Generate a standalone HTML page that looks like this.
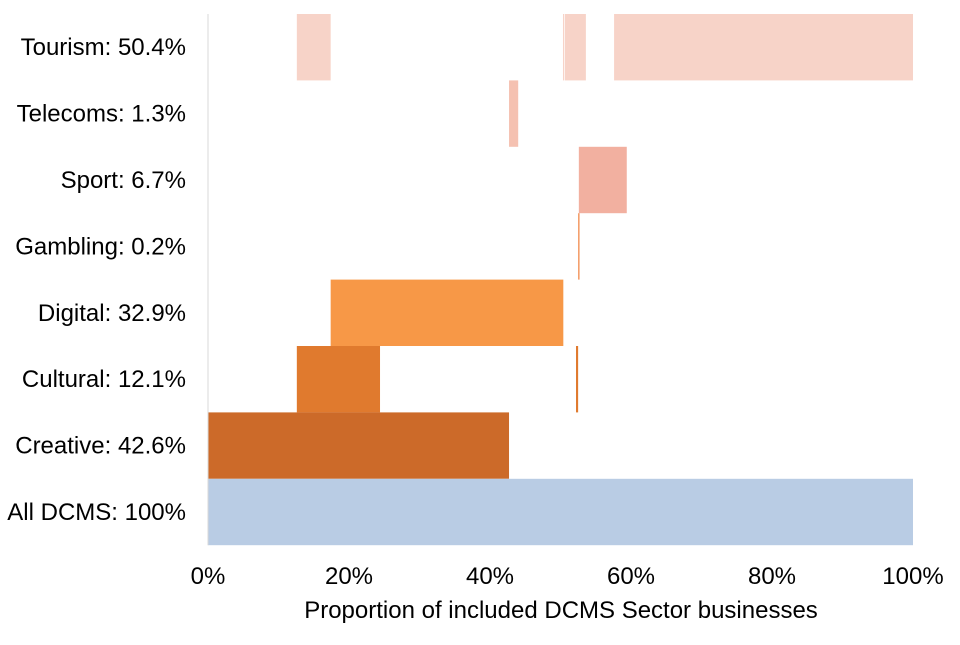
<!DOCTYPE html>
<html><head><meta charset="utf-8"><style>
body{margin:0;background:#fff;font-family:"Liberation Sans",sans-serif}
svg text{font-family:"Liberation Sans",sans-serif;font-size:24px;fill:#000}
</style></head><body>
<svg width="960" height="640">
<g id="plot"></g>
</svg>
<script>
const categories=["Tourism: 50.4%","Telecoms: 1.3%","Sport: 6.7%","Gambling: 0.2%","Digital: 32.9%","Cultural: 12.1%","Creative: 42.6%","All DCMS: 100%"];
const segStarts=[[12.6,50.35,50.6,57.6],[42.7],[52.6],[52.5],[17.4],[12.6,52.2],[0],[0]];
const segEnds=[[17.4,50.5,53.6,100],[44.0],[59.4],[52.7],[50.4],[24.4,52.5],[42.7],[100]];
const colors=["#f7d3c8","#f5c1b1","#f2b0a0","#f2935a","#f79847","#e07a2e","#cc6a29","#b9cce4"];
const ticks=[0,20,40,60,80,100];
const x0=208,x1=913,yTop=14,rowH=66.4;
const xs=v=>x0+(x1-x0)*v/100;
const ys=i=>yTop+i*rowH;
const g=document.getElementById('plot');
const NS='http://www.w3.org/2000/svg';
function mk(t,a){const e=document.createElementNS(NS,t);for(const k in a)e.setAttribute(k,a[k]);g.appendChild(e);return e;}
categories.forEach((c,i)=>{
 segStarts[i].forEach((s,j)=>{
  const r=mk('rect',{x:xs(s),y:ys(i),width:Math.max(1,xs(segEnds[i][j])-xs(s)),height:rowH,fill:colors[i]});
  
  
 });
 const t=mk('text',{x:186,y:ys(i)+rowH/2+8,'text-anchor':'end'});
 t.textContent=c;
 
 
});
const ax=mk('line',{x1:x0,x2:x0,y1:yTop,y2:ys(8),stroke:'#d9d9d9','stroke-width':1});


ticks.forEach(v=>{
 const t=mk('text',{x:xs(v),y:584,'text-anchor':'middle'});
 t.textContent=v+'%';
 
 
});
const tt=mk('text',{x:561,y:618,'text-anchor':'middle'});
tt.textContent='Proportion of included DCMS Sector businesses';


</script>
</body></html>
